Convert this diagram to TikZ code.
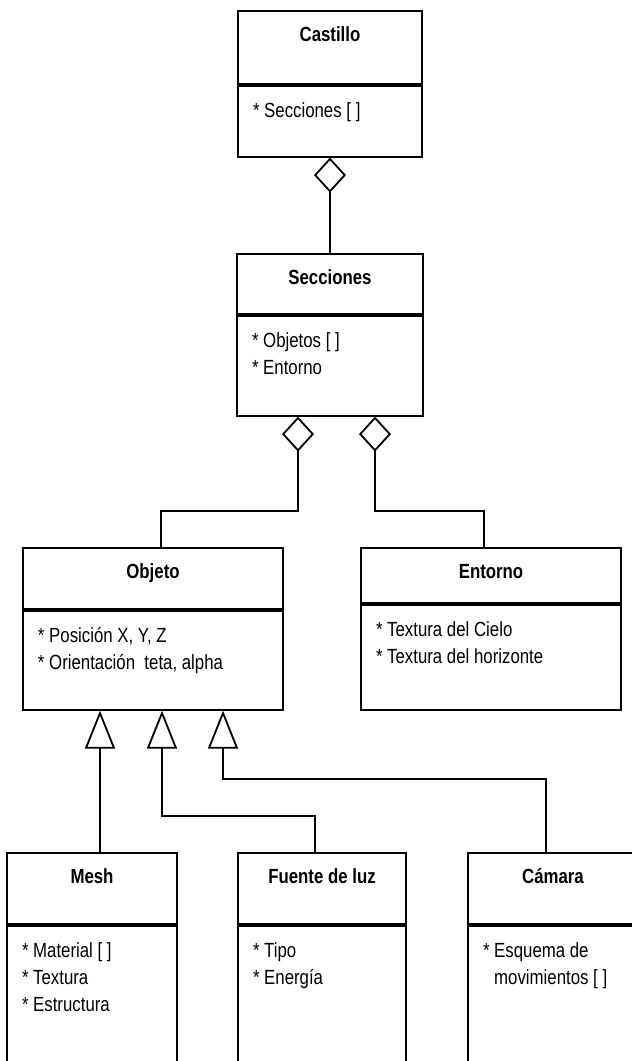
\documentclass[tikz,border=0pt]{standalone}
\usepackage{fontspec}
\setmainfont{Liberation Sans}[FakeStretch=0.82]
\usetikzlibrary{positioning, calc, arrows.meta}

% attribute list: fixed height, text at top left
\newcommand{\attrs}[3]{\parbox[t][#1][t]{#2}{\raggedright\leftskip=15pt\rule{0pt}{32pt}#3}}

\tikzset{
  classhead/.style={draw, line width=1.8pt, anchor=north, inner xsep=0pt, inner ysep=0pt,
    text height=31pt, font=\bfseries\fontsize{20.5}{27}\selectfont},
  classbody/.style={draw, line width=1.8pt, anchor=north, inner sep=0pt,
    font=\fontsize{20.5}{27}\selectfont},
  aggr/.style={line width=1.8pt, -{Diamond[open, length=35pt, width=32pt]}},
  inh/.style={line width=1.8pt, -{Triangle[open, length=38pt, width=30pt]}}
}

\begin{document}
\begin{tikzpicture}[x=1pt, y=-1pt]
    \useasboundingbox (0,0) rectangle (632,1061);
    \clip (0,0) rectangle (632,1061);

    % Castillo
    \node[classhead, minimum width=184pt, text depth=42pt] (castillo) at (330,10) {Castillo};
    \node[classbody] (castilloA) at (castillo.south) {\attrs{71pt}{184pt}{{*} Secciones [ ]}};

    % Secciones
    \node[classhead, minimum width=186pt, text depth=29pt] (secciones) at (330,253) {Secciones};
    \node[classbody] (seccionesA) at (secciones.south) {\attrs{100pt}{186pt}{{*} Objetos [ ]\\{*} Entorno}};

    % Objeto
    \node[classhead, minimum width=260pt, text depth=30pt] (objeto) at (153,547) {Objeto};
    \node[classbody] (objetoA) at (objeto.south) {\attrs{99pt}{260pt}{{*} Posición X, Y, Z\\{*} Orientación~ teta, alpha}};

    % Entorno
    \node[classhead, minimum width=260pt, text depth=24pt] (entorno) at (491,547) {Entorno};
    \node[classbody] (entornoA) at (entorno.south) {\attrs{105pt}{260pt}{{*} Textura del Cielo\\{*} Textura del horizonte}};

    % Mesh, Fuente de luz, Camara
    \node[classhead, minimum width=170pt, text depth=40pt] (mesh) at (92,852) {Mesh};
    \node[classbody] (meshA) at (mesh.south) {\attrs{177pt}{170pt}{{*} Material [ ]\\{*} Textura\\{*} Estructura}};
    \node[classhead, minimum width=168pt, text depth=40pt] (fuente) at (322,852) {Fuente de luz};
    \node[classbody] (fuenteA) at (fuente.south) {\attrs{177pt}{168pt}{{*} Tipo\\{*} Energía}};
    \node[classhead, minimum width=170pt, text depth=40pt] (camara) at (553,852) {Cámara};
    \node[classbody] (camaraA) at (camara.south) {\attrs{177pt}{170pt}{{*} Esquema de\\\phantom{* }movimientos [ ]}};

    % puntos de union
    \coordinate (dO) at ([xshift=-32pt]seccionesA.south);
    \coordinate (dE) at ([xshift=45pt]seccionesA.south);
    \coordinate (tM) at ([xshift=-53pt]objetoA.south);
    \coordinate (tF) at ([xshift=9pt]objetoA.south);
    \coordinate (tC) at ([xshift=70pt]objetoA.south);

    % agregacion
    \draw[aggr] (secciones.north) -- (castilloA.south);
    \draw[aggr] ([xshift=8pt]objeto.north) -- ++(0,-36) -| (dO);
    \draw[aggr] ([xshift=-7pt]entorno.north) -- ++(0,-36) -| (dE);

    % herencia
    \draw[inh] ([xshift=8pt]mesh.north) -- (tM);
    \draw[inh] ([xshift=-7pt]fuente.north) -- ++(0,-36) -| (tF);
    \draw[inh] ([xshift=-7pt]camara.north) -- ++(0,-73) -| (tC);

\end{tikzpicture}
\end{document}
